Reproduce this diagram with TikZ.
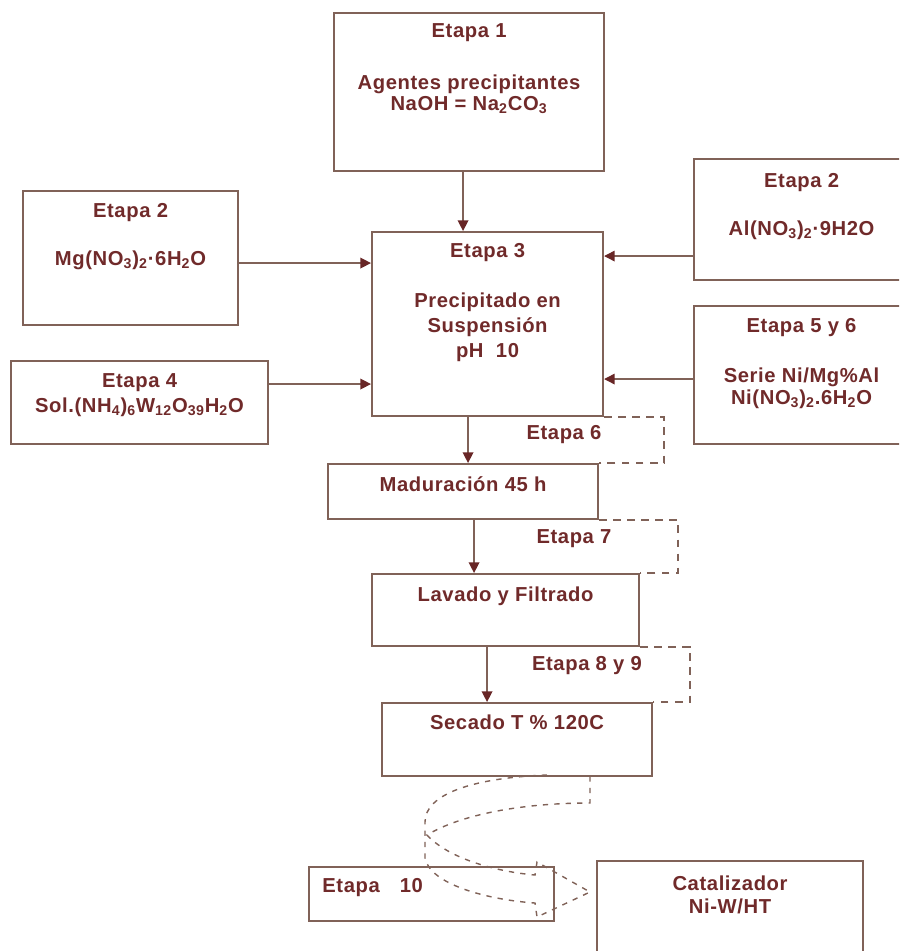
\documentclass[tikz,border=0pt]{standalone}
\usepackage{fontspec}
\setmainfont{Liberation Sans}[LetterSpace=3]
\usetikzlibrary{arrows.meta, positioning, calc}
\definecolor{borde}{RGB}{128, 98, 88}
\definecolor{tinta}{RGB}{112, 42, 42}
\definecolor{punta}{RGB}{104, 38, 38}

\begin{document}
\begin{tikzpicture}[
    caja/.style={
        draw=borde,
        line width=1.2pt,
        anchor=north west,
        inner sep=0pt
    },
    texto/.style={
        text=tinta,
        font=\fontsize{11.5}{12}\selectfont\bfseries,
        align=center,
        inner sep=0pt,
        anchor=north
    },
    flecha/.style={
        draw=borde,
        line width=0.8pt,
        -{Triangle[length=6pt,width=6pt,color=punta]}
    },
    guion/.style={
        draw=borde,
        line width=0.9pt,
        dash pattern=on 4.5pt off 3.5pt
    },
    curva/.style={
        draw=borde,
        line width=0.8pt,
        dash pattern=on 3pt off 3.5pt
    }
]
\useasboundingbox (0,0) rectangle (17.98,-19.02);
\clip (0,0) rectangle (17.98,-19.02);

% cajas
\node[caja, minimum width=5.40cm, minimum height=3.16cm] (e1) at (6.66,-0.24) {};
\node[caja, minimum width=4.30cm, minimum height=2.68cm] (e2a) at (0.44,-3.80) {};
\node[caja, minimum width=4.30cm, minimum height=2.42cm] (e2b) at (13.86,-3.16) {};
\node[caja, minimum width=4.62cm, minimum height=3.68cm] (e3) at (7.42,-4.62) {};
\node[caja, minimum width=4.30cm, minimum height=2.76cm] (e56) at (13.86,-6.10) {};
\node[caja, minimum width=5.14cm, minimum height=1.66cm] (e4) at (0.20,-7.20) {};
\node[caja, minimum width=5.40cm, minimum height=1.10cm] (mad) at (6.54,-9.26) {};
\node[caja, minimum width=5.34cm, minimum height=1.44cm] (lav) at (7.42,-11.46) {};
\node[caja, minimum width=5.40cm, minimum height=1.46cm] (sec) at (7.62,-14.04) {};
\node[caja, minimum width=4.90cm, minimum height=1.08cm] (e10) at (6.16,-17.32) {};
\node[caja, minimum width=5.32cm, minimum height=2.10cm] (cat) at (11.92,-17.20) {};

% textos
\node[texto, below=0.22cm of e1.north] (t1)
{Etapa 1\\[0.62cm]
Agentes precipitantes\\
NaOH = Na\textsubscript{2}CO\textsubscript{3}};

\node[texto, below=0.26cm of e2a.north] (t2a)
{Etapa 2\\[0.54cm]
Mg(NO\textsubscript{3})\textsubscript{2}·6H\textsubscript{2}O};

\node[texto, below=0.30cm of e2b.north] (t2b)
{Etapa 2\\[0.54cm]
Al(NO\textsubscript{3})\textsubscript{2}·9H2O};

\node[texto, below=0.24cm of e3.north] (t3)
{Etapa 3\\[0.58cm]
Precipitado en\\[0.08cm]
Suspensión\\[0.08cm]
pH\ \ 10};

\node[texto, below=0.26cm of e56.north] (t56)
{Etapa 5 y 6\\[0.58cm]
Serie Ni/Mg\%Al\\[0.02cm]
Ni(NO\textsubscript{3})\textsubscript{2}.6H\textsubscript{2}O};

\node[texto, below=0.26cm of e4.north] (t4)
{Etapa 4\\[0.08cm]
Sol.(NH\textsubscript{4})\textsubscript{6}W\textsubscript{12}O\textsubscript{39}H\textsubscript{2}O};

\node[texto, below=0.26cm of mad.north] (tmad) {Maduración 45 h};
\node[texto, below=0.26cm of lav.north] (tlav) {Lavado y Filtrado};
\node[texto, below=0.24cm of sec.north] (tsec) {Secado T \% 120C};

\node[texto, anchor=north west] (t10) at ([xshift=0.28cm,yshift=-0.24cm]e10.north west)
{Etapa\hspace{0.4cm}10};

\node[texto, below=0.30cm of cat.north] (tcat)
{Catalizador\\[0.04cm]
Ni-W/HT};

% etiquetas de etapas
\node[texto, anchor=center] (et6) at (11.28,-8.70) {Etapa 6};
\node[texto, anchor=center] (et7) at (11.48,-10.78) {Etapa 7};
\node[texto, anchor=center] (et89) at (11.74,-13.32) {Etapa 8 y 9};

% flechas
\draw[flecha] ([xshift=-0.12cm]e1.south) -- ([xshift=-0.12cm]e1.south |- e3.north);
\draw[flecha] ([yshift=-0.10cm]e2a.east) -- ([yshift=-0.10cm]e2a.east -| e3.west);
\draw[flecha] ([yshift=0.37cm]e4.east) -- ([yshift=0.37cm]e4.east -| e3.west);
\draw[flecha] ([yshift=-0.73cm]e2b.west) -- ([yshift=-0.73cm]e2b.west -| e3.east);
\draw[flecha] ([yshift=-0.08cm]e56.west) -- ([yshift=-0.08cm]e56.west -| e3.east);
\draw[flecha] ([xshift=-0.39cm]e3.south) -- ([xshift=-0.39cm]e3.south |- mad.north);
\draw[flecha] ([xshift=0.22cm]mad.south) -- ([xshift=0.22cm]mad.south |- lav.north);
\draw[flecha] ([xshift=-0.37cm]lav.south) -- ([xshift=-0.37cm]lav.south |- sec.north);

% tramos punteados
\draw[guion] (e3.south east) -- ++(1.20,0) |- (mad.north east);
\draw[guion] (mad.south east) -- ++(1.58,0) |- (lav.north east);
\draw[guion] (lav.south east) -- ++(1.00,0) |- (sec.north east);

% flecha curva hacia el catalizador
\draw[curva] (10.94,-15.50) .. controls (9.40,-15.56) and (8.50,-15.90) .. (8.50,-16.44)
  -- (8.50,-17.16) .. controls (8.60,-17.70) and (9.80,-18.00) .. (10.70,-18.06)
  -- (10.74,-18.34) -- (11.80,-17.84) -- (10.74,-17.24) -- (10.70,-17.50)
  .. controls (10.00,-17.44) and (9.00,-17.20) .. (8.54,-16.70)
  .. controls (9.20,-16.30) and (10.40,-16.06) .. (11.80,-16.06) -- (11.80,-15.50);

\end{tikzpicture}
\end{document}
